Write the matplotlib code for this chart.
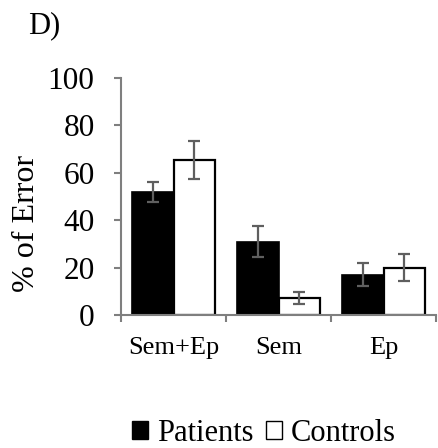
import matplotlib
matplotlib.use('Agg')
import matplotlib.pyplot as plt
import numpy as np
from matplotlib.patches import Patch

categories = ['Sem+Ep', 'Sem', 'Ep']
patients = [52, 31, 17]
patients_err = [4.3, 6.7, 4.8]
controls = [65.5, 7.2, 20]
controls_err = [8, 2.5, 5.6]

plt.rcParams['font.family'] = ['Liberation Serif', 'DejaVu Serif']
grey = '#7f7f7f'
errgrey = '#5f5f5f'

fig = plt.figure(figsize=(4.38, 4.48), dpi=100)
ax = fig.add_axes([121 / 438, 1 - 315 / 448, 315 / 438, 237 / 448])

x = np.arange(len(categories))
w = 0.395
ax.bar(x - w / 2, patients, w, color='black', edgecolor='black', linewidth=1.2,
       yerr=patients_err, error_kw=dict(ecolor=errgrey, elinewidth=1.6, capsize=4.5, capthick=1.6))
ax.bar(x + w / 2, controls, w, color='white', edgecolor='black', linewidth=1.6,
       yerr=controls_err, error_kw=dict(ecolor=errgrey, elinewidth=1.6, capsize=4.5, capthick=1.6))

ax.set_xlim(-0.5, len(categories) - 0.5)
ax.set_ylim(0, 100)
ax.set_yticks([0, 20, 40, 60, 80, 100])
ax.set_xticks(x)
ax.set_xticklabels(categories)
ax.set_xticks(np.arange(-0.5, len(categories), 1), minor=True)

for s in ['top', 'right']:
    ax.spines[s].set_visible(False)
for s in ['left', 'bottom']:
    ax.spines[s].set_color(grey)
    ax.spines[s].set_linewidth(1.5)

ax.tick_params(axis='y', direction='out', length=5, width=1.5, color=grey,
               labelsize=22.5, pad=14)
ax.tick_params(axis='x', which='major', length=0, labelsize=19, pad=16)
ax.tick_params(axis='x', which='minor', direction='out', length=5, width=1.5, color=grey)

fig.text(27 / 438, 1 - 223 / 448, '% of Error', rotation=90, fontsize=23,
         ha='center', va='center')
fig.text(28 / 438, 1 - 33 / 448, 'D)', fontsize=22, ha='left', va='baseline')

handles = [Patch(facecolor='black', edgecolor='black', linewidth=1),
           Patch(facecolor='white', edgecolor='black', linewidth=1)]
fig.legend(handles, ['Patients', 'Controls'], ncol=2, frameon=False,
           loc='center', bbox_to_anchor=(264 / 438, 1 - 433 / 448),
           fontsize=22, handlelength=0.52, handleheight=0.52,
           handletextpad=0.3, columnspacing=0.4, borderpad=0)

fig.savefig('out.png', dpi=100)
